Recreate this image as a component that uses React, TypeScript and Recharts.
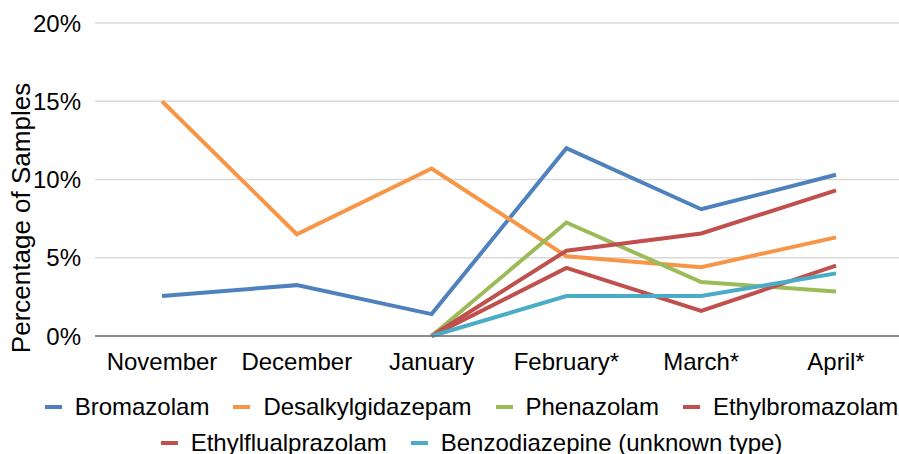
import React from "react";
import {
  LineChart,
  Line,
  XAxis,
  YAxis,
  CartesianGrid,
  Legend,
} from "recharts";

// Months on the x axis
const months = ["November", "December", "January", "February*", "March*", "April*"];

// Percent of samples per month (null = not reported yet)
const bromazolam = [2.55, 3.25, 1.4, 12.0, 8.1, 10.3];
const desalkylgidazepam = [15.0, 6.5, 10.7, 5.1, 4.4, 6.3];
const phenazolam = [null, null, 0, 7.25, 3.45, 2.85];
const ethylbromazolam = [null, null, 0, 5.45, 6.55, 9.3];
const ethylflualprazolam = [null, null, 0, 4.35, 1.6, 4.5];
const benzoUnknown = [null, null, 0, 2.55, 2.55, 4.0];

const yTicks = [0, 5, 10, 15, 20];

const SERIES = [
  { key: "bromazolam", label: "Bromazolam", color: "#4F81BD", values: bromazolam },
  { key: "desalkylgidazepam", label: "Desalkylgidazepam", color: "#F79646", values: desalkylgidazepam },
  { key: "phenazolam", label: "Phenazolam", color: "#9BBB59", values: phenazolam },
  { key: "ethylbromazolam", label: "Ethylbromazolam", color: "#C0504D", values: ethylbromazolam },
  { key: "ethylflualprazolam", label: "Ethylflualprazolam", color: "#C0504D", values: ethylflualprazolam },
  { key: "benzo", label: "Benzodiazepine (unknown type)", color: "#4BACC6", values: benzoUnknown },
];

const data = months.map((m, i) => {
  const row: Record<string, string | number | null> = { month: m };
  SERIES.forEach((s) => {
    row[s.key] = s.values[i];
  });
  return row;
});

const FONT = '"Liberation Sans", Arial, Helvetica, sans-serif';

function LegendRows() {
  const rows = [SERIES.slice(0, 4), SERIES.slice(4)];
  return (
    <div style={{ fontFamily: FONT, fontSize: 24, color: "#000", paddingLeft: 40, paddingTop: 15 }}>
      {rows.map((row, r) => (
        <div
          key={r}
          style={{ display: "flex", justifyContent: "center", height: 36, alignItems: "center", whiteSpace: "nowrap" }}
        >
          {row.map((s) => (
            <span key={s.key} style={{ display: "inline-flex", alignItems: "center", margin: "0 12px" }}>
              <span
                style={{
                  display: "inline-block",
                  width: 17,
                  height: 4,
                  background: s.color,
                  marginRight: 13,
                }}
              />
              {s.label}
            </span>
          ))}
        </div>
      ))}
    </div>
  );
}

function YLabel() {
  return (
    <text
      x={21}
      y={218}
      transform="rotate(-90 21 218)"
      textAnchor="middle"
      dominantBaseline="central"
      fontSize={26}
      fontFamily={FONT}
      fill="#000"
    >
      Percentage of Samples
    </text>
  );
}

export default function App() {
  return (
    <div style={{ position: "absolute", left: 0, top: 0 }}>
      <LineChart
        width={899}
        height={454}
        data={data}
        margin={{ top: 23, right: -4, bottom: 0, left: 0 }}
      >
        <CartesianGrid vertical={false} stroke="#d9d9d9" strokeWidth={1.5} />
        <XAxis
          dataKey="month"
          axisLine={{ stroke: "#6e6e6e", strokeWidth: 1.5 }}
          tickLine={false}
          tick={{ fill: "#000", fontSize: 24, fontFamily: FONT }}
          tickMargin={11}
          height={38}
          interval={0}
          padding={{ left: 67, right: 67 }}
        />
        <YAxis
          width={95}
          domain={[0, 20]}
          ticks={yTicks}
          axisLine={false}
          tickLine={false}
          tickFormatter={(v: number) => `${v}%`}
          tick={{ fill: "#000", fontSize: 24, fontFamily: FONT }}
          tickMargin={8}
          label={<YLabel />}
        />
        <Legend verticalAlign="bottom" height={80} content={() => <LegendRows />} />
        {SERIES.map((s) => (
          <Line
            key={s.key}
            type="linear"
            dataKey={s.key}
            name={s.label}
            stroke={s.color}
            strokeWidth={4}
            dot={false}
            activeDot={false}
            isAnimationActive={false}
          />
        ))}
      </LineChart>
    </div>
  );
}
